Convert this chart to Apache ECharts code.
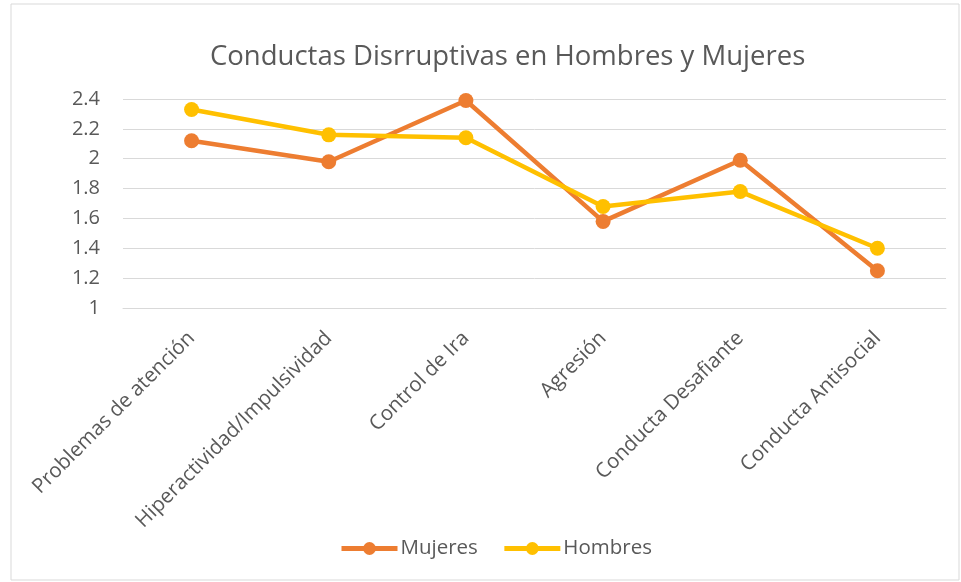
<!DOCTYPE html>
<html>
<head>
<meta charset="utf-8">
<script src="https://cdn.jsdelivr.net/npm/echarts@6/dist/echarts.min.js"></script>
<style>
  html, body { margin: 0; padding: 0; background: #fff; }
  #chart { width: 961px; height: 582px; }
</style>
</head>
<body>
<div id="chart"></div>
<script>
// categorias
const categorias = [
  "Problemas de atención",
  "Hiperactividad/Impulsividad",
  "Control de Ira",
  "Agresión",
  "Conducta Desafiante",
  "Conducta Antisocial"
];
const mujeres = [2.12, 1.98, 2.39, 1.58, 1.99, 1.25];
const hombres = [2.33, 2.16, 2.14, 1.68, 1.78, 1.40];

const chart = echarts.init(document.getElementById("chart"));
const txt = "#595959";
const fuente = "Open Sans";

chart.setOption({
  animation: false,
  title: {
    text: "Conductas Disrruptivas en Hombres y Mujeres",
    left: 205,
    top: 38,
    textStyle: { fontFamily: fuente, fontSize: 27.5, fontWeight: "normal", color: txt }
  },
  // borde del grafico
  graphic: [{
    type: "rect",
    shape: { x: 11, y: 4, width: 948, height: 576 },
    style: { fill: "none", stroke: "#d9d9d9", lineWidth: 1 }
  }],
  legend: {
    bottom: 18,
    left: 334,
    itemWidth: 56,
    itemHeight: 16,
    itemGap: 24,
    textStyle: { fontFamily: fuente, fontSize: 20.5, color: txt, padding: [0, 0, 0, -2] },
    data: [
      { name: "Mujeres", itemStyle: { color: "#ED7D31" }, lineStyle: { width: 5 } },
      { name: "Hombres", itemStyle: { color: "#FFC000" }, lineStyle: { width: 5 } }
    ]
  },
  grid: { left: 123, right: 15, top: 99, bottom: 274 },
  xAxis: {
    type: "category",
    data: categorias,
    boundaryGap: true,
    axisLine: { lineStyle: { color: "#d9d9d9" } },
    axisTick: { show: false },
    axisLabel: {
      rotate: 45,
      interval: 0,
      margin: 27,
      fontFamily: fuente,
      fontSize: 20.5,
      color: txt
    }
  },
  yAxis: {
    type: "value",
    min: 1,
    max: 2.4,
    interval: 0.2,
    axisLine: { show: false },
    axisTick: { show: false },
    splitLine: { lineStyle: { color: "#d9d9d9", width: 1 } },
    axisLabel: {
      margin: 23,
      fontFamily: fuente,
      fontSize: 20,
      color: txt,
      formatter: v => String(Math.round(v * 10) / 10)
    }
  },
  series: [
    {
      name: "Mujeres",
      type: "line",
      data: mujeres,
      symbol: "circle",
      symbolSize: 15,
      lineStyle: { width: 4.5, color: "#ED7D31" },
      itemStyle: { color: "#ED7D31" }
    },
    {
      name: "Hombres",
      type: "line",
      data: hombres,
      symbol: "circle",
      symbolSize: 15,
      lineStyle: { width: 4.5, color: "#FFC000" },
      itemStyle: { color: "#FFC000" }
    }
  ]
});
</script>
</body>
</html>
